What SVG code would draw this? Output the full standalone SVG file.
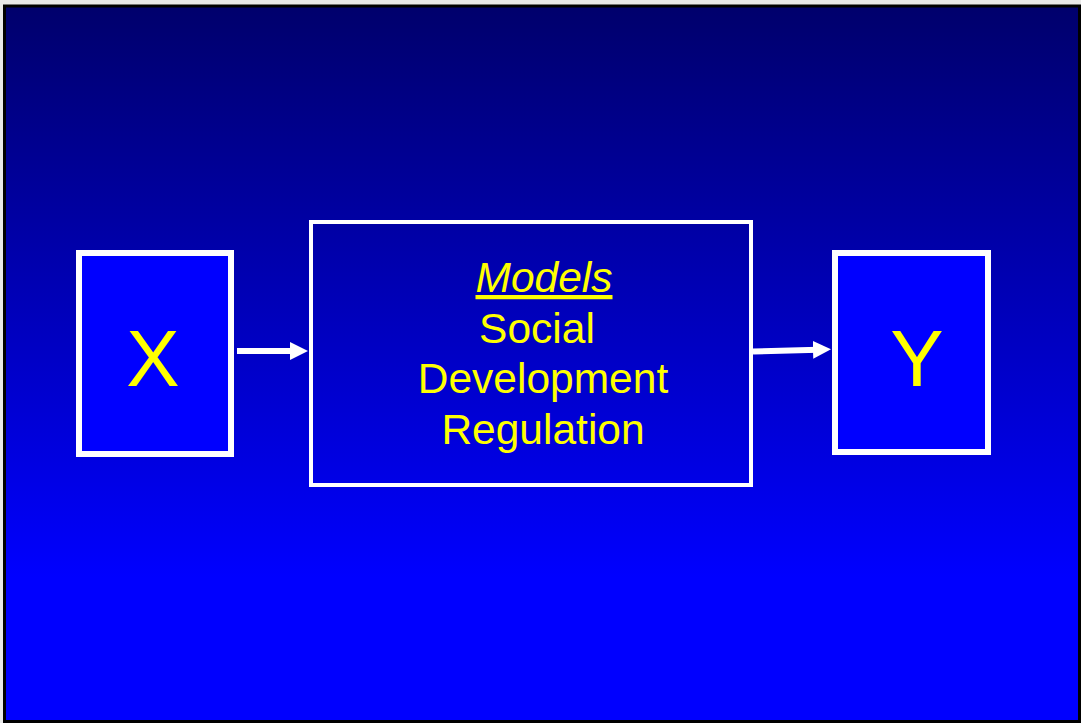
<svg xmlns="http://www.w3.org/2000/svg" width="1081" height="723" viewBox="0 0 1081 723">
  <defs>
    <linearGradient id="bg" x1="0" y1="7" x2="0" y2="720" gradientUnits="userSpaceOnUse">
      <stop offset="0" stop-color="#00006C"/>
      <stop offset="0.8" stop-color="#0000FF"/>
      <stop offset="1" stop-color="#0000FF"/>
    </linearGradient>
    <marker id="head" markerUnits="userSpaceOnUse" markerWidth="18" markerHeight="18" refX="5" refY="9" orient="auto">
      <path d="M0,0 L18,9 L0,18 z" fill="#FFFFFF"/>
    </marker>
    <style>
      .box { stroke: #FFFFFF; }
      .small { fill: #0000FF; stroke-width: 6; }
      .big { fill: none; stroke-width: 4; }
      .lbl { font-family: "Liberation Sans", Arial, sans-serif; fill: #FFFF00; text-anchor: middle; }
      .conn { stroke: #FFFFFF; stroke-width: 6; fill: none; marker-end: url(#head); }
    </style>
  </defs>
  <rect x="0" y="0" width="1081" height="723" fill="#E8E8E8"/>
  <rect x="4.5" y="6" width="1075" height="715.5" fill="url(#bg)" stroke="#000000" stroke-width="3"/>

  <g id="node-x">
    <rect class="box small" x="79" y="253" width="152" height="201"/>
    <text class="lbl" x="153" y="386" font-size="80">X</text>
  </g>

  <g id="node-models">
    <rect class="box big" x="311" y="222" width="440" height="263"/>
    <text class="lbl" x="544" y="292" font-size="42.5" font-style="italic" text-decoration="underline">Models</text>
    <text class="lbl" x="537" y="343" font-size="42.5">Social</text>
    <text class="lbl" x="543" y="393" font-size="42.5">Development</text>
    <text class="lbl" x="543" y="444" font-size="42.5">Regulation</text>
  </g>

  <g id="node-y">
    <rect class="box small" x="835" y="253" width="153" height="199"/>
    <text class="lbl" x="917" y="386" font-size="80">Y</text>
  </g>

  <g id="connectors">
    <path class="conn" d="M237,351 L295,351"/>
    <path class="conn" d="M753,351.5 L818,349.7"/>
  </g>
</svg>
